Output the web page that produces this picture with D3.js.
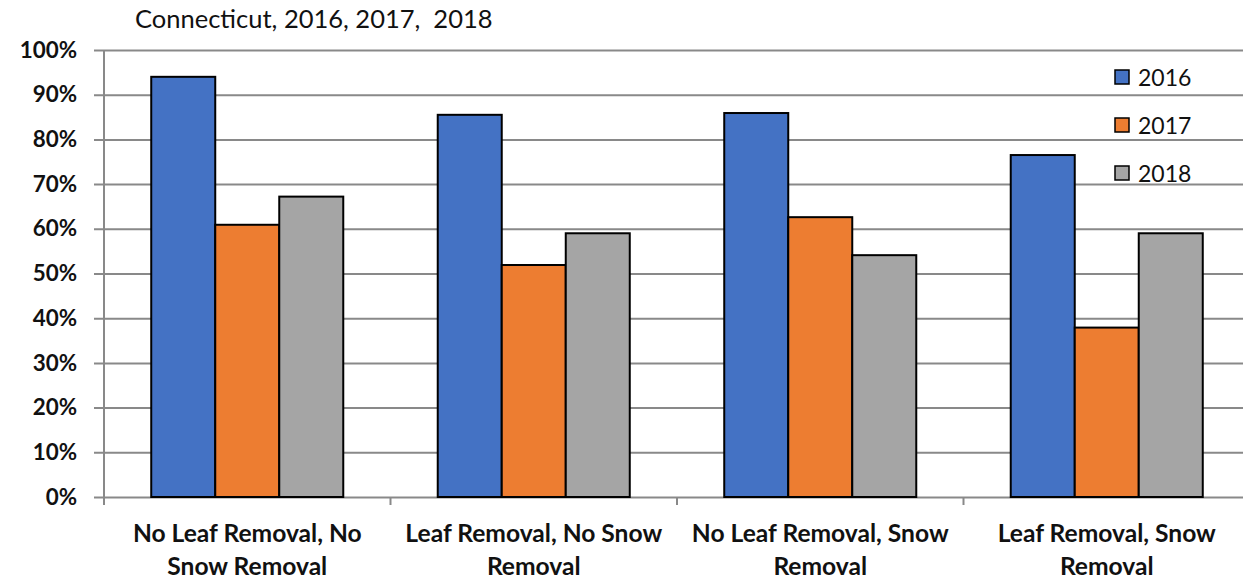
<!DOCTYPE html>
<html>
<head>
<meta charset="utf-8">
<script src="https://cdn.jsdelivr.net/npm/d3@7"></script>
<style>
  html, body { margin: 0; padding: 0; background: #fff; overflow: hidden; }
  svg { display: block; font-family: Lato, "Open Sans", sans-serif; }
</style>
</head>
<body>
<svg id="chart" width="1243" height="580"></svg>
<script>
// Category labels (each split onto two lines)
const categories = [
  ["No Leaf Removal, No", "Snow Removal"],
  ["Leaf Removal, No Snow", "Removal"],
  ["No Leaf Removal, Snow", "Removal"],
  ["Leaf Removal, Snow", "Removal"]
];
const years = ["2016", "2017", "2018"];
const values2016 = [94.0, 85.5, 85.9, 76.5];
const values2017 = [60.9, 51.9, 62.6, 37.9];
const values2018 = [67.2, 59.0, 54.1, 59.0];
const yTicks = [0, 10, 20, 30, 40, 50, 60, 70, 80, 90, 100];
const seriesColors = ["#4472C4", "#ED7D31", "#A5A5A5"];

const seriesValues = [values2016, values2017, values2018];
const catKeys = categories.map(c => c.join(" "));

const svg = d3.select("#chart");
// The plot area runs slightly past the right edge of the canvas
const plot = { left: 104, right: 1250, top: 50, bottom: 497 };
const gridRight = 1243;

const x = d3.scaleBand().domain(catKeys).range([plot.left, plot.right]).padding(0);
const xInner = d3.scaleBand().domain(years).range([0, x.bandwidth()])
  .paddingInner(0).paddingOuter(0.738);
const y = d3.scaleLinear().domain([0, 100]).range([plot.bottom, plot.top]);

// Title
svg.append("text")
  .attr("x", 135).attr("y", 28)
  .attr("font-size", 25.5).attr("fill", "#111")
  .attr("xml:space", "preserve")
  .style("white-space", "pre")
  .text("Connecticut, 2016, 2017,  2018");

// Horizontal gridlines with tick marks
const yAxis = d3.axisLeft(y).tickValues(yTicks)
  .tickSize(-(gridRight - plot.left)).tickFormat(d => d + "%").tickPadding(27);
const yg = svg.append("g").attr("transform", `translate(${plot.left},0)`).call(yAxis);
yg.select(".domain").remove();
yg.selectAll(".tick line")
  .attr("x1", -10)
  .attr("stroke", "#898989").attr("stroke-width", 2);
yg.selectAll(".tick text")
  .attr("font-size", 22.4).attr("font-weight", "bold").attr("fill", "#111")
  .attr("font-family", "Lato, sans-serif");

// Vertical axis line
svg.append("line")
  .attr("x1", plot.left).attr("x2", plot.left)
  .attr("y1", y(100)).attr("y2", plot.bottom + 8)
  .attr("stroke", "#898989").attr("stroke-width", 2);

// Category boundary ticks on the bottom axis
const bounds = catKeys.map(k => x(k)).concat([plot.right]);
svg.selectAll("line.cat-tick").data(bounds).enter().append("line")
  .attr("class", "cat-tick")
  .attr("x1", d => d).attr("x2", d => d)
  .attr("y1", plot.bottom).attr("y2", plot.bottom + 8)
  .attr("stroke", "#898989").attr("stroke-width", 2);

// Bars
const groups = svg.selectAll("g.cat").data(catKeys).enter().append("g")
  .attr("class", "cat")
  .attr("transform", d => `translate(${x(d)},0)`);
groups.selectAll("rect").data((d, i) => years.map((yr, s) => ({ yr, s, v: seriesValues[s][i] })))
  .enter().append("rect")
  .attr("x", d => xInner(d.yr))
  .attr("width", xInner.bandwidth())
  .attr("y", d => y(d.v))
  .attr("height", d => y(0) - y(d.v))
  .attr("fill", d => seriesColors[d.s])
  .attr("stroke", "#000").attr("stroke-width", 2);

// Category labels
const labels = svg.selectAll("text.cat-label").data(categories).enter().append("text")
  .attr("class", "cat-label")
  .attr("text-anchor", "middle")
  .attr("font-size", 24.6).attr("font-weight", "bold").attr("fill", "#111");
labels.selectAll("tspan").data((d, i) => d.map(t => ({ t, i }))).enter().append("tspan")
  .attr("x", d => x(catKeys[d.i]) + x.bandwidth() / 2)
  .attr("y", (d, j) => 542 + j * 33)
  .text(d => d.t);

// Legend
const legend = svg.selectAll("g.legend").data(years).enter().append("g")
  .attr("class", "legend")
  .attr("transform", (d, i) => `translate(1115,${77 + i * 48})`);
legend.append("rect")
  .attr("x", 0).attr("y", -7).attr("width", 14).attr("height", 14)
  .attr("fill", (d, i) => seriesColors[i])
  .attr("stroke", "#000").attr("stroke-width", 1.5);
legend.append("text")
  .attr("x", 23).attr("y", 9)
  .attr("font-size", 23).attr("fill", "#111")
  .text(d => d);
</script>
</body>
</html>
